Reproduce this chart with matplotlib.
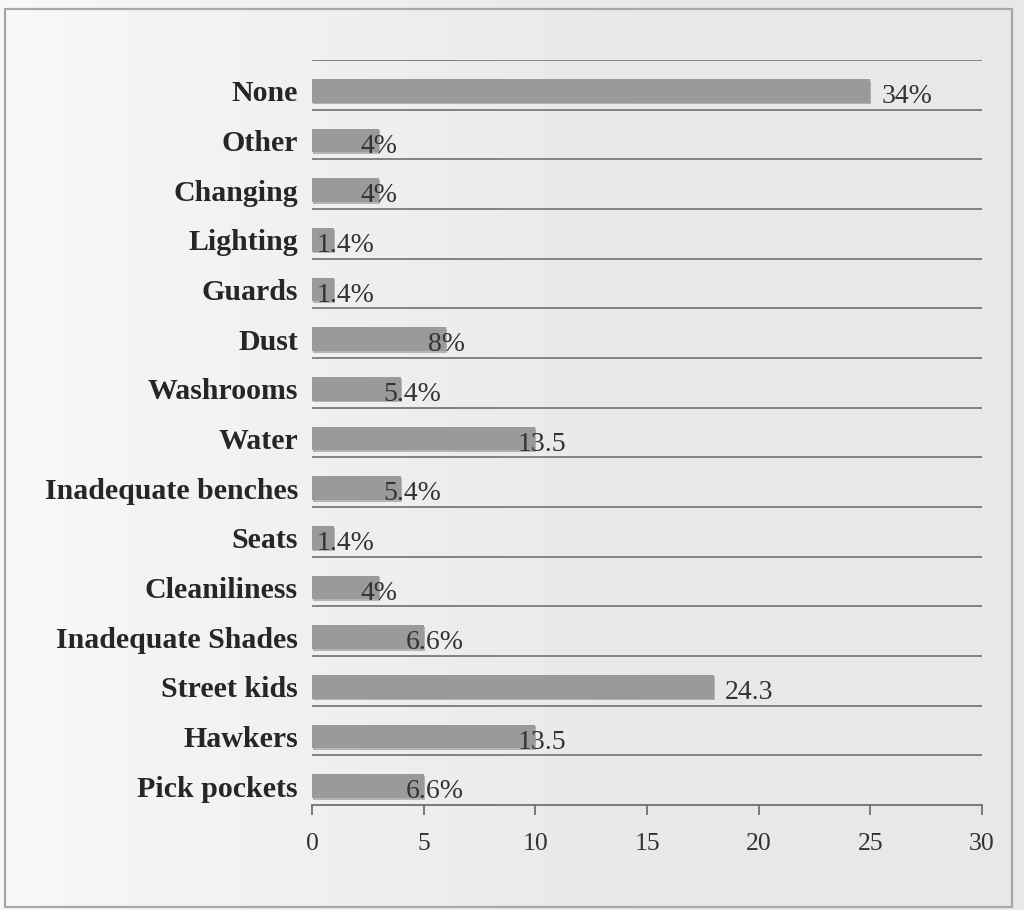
import numpy as np
import matplotlib
matplotlib.use("Agg")
import matplotlib.pyplot as plt
import matplotlib.patheffects as pe
from matplotlib.patches import Rectangle

# Problems reported at the site (counts of respondents) and their share labels
categories = ["None", "Other", "Changing", "Lighting", "Guards", "Dust",
              "Washrooms", "Water", "Inadequate benches", "Seats",
              "Cleaniliness", "Inadequate Shades", "Street kids", "Hawkers",
              "Pick pockets"]
counts = [25, 3, 3, 1, 1, 6, 4, 10, 4, 1, 3, 5, 18, 10, 5]
share_labels = ["34%", "4%", "4%", "1.4%", "1.4%", "8%", "5.4%", "13.5",
                "5.4%", "1.4%", "4%", "6.6%", "24.3", "13.5", "6.6%"]
x_ticks = [0, 5, 10, 15, 20, 25, 30]

W, H, DPI = 1024, 910, 100
fig = plt.figure(figsize=(W / DPI, H / DPI), dpi=DPI)

# paper-like background: lighter on the left, greyer on the right
bg = fig.add_axes([0, 0, 1, 1], zorder=-10)
gx = np.linspace(0, 1, 256)
grad = 0.975 - 0.065 * np.clip(gx * 1.6, 0, 1) ** 0.8
bg.imshow(np.tile(grad, (16, 1)), cmap="gray", vmin=0, vmax=1,
          aspect="auto", extent=[0, 1, 0, 1], interpolation="bilinear")
bg.add_patch(Rectangle((5 / W, 1 - 907 / H), (1012 - 5) / W, (907 - 9) / H,
                       fill=False, edgecolor="#a8a8a8", lw=1.6))
bg.set_xlim(0, 1)
bg.set_ylim(0, 1)
bg.axis("off")

ax = fig.add_axes([312 / W, 1 - 805 / H, (982 - 312) / W, (805 - 60) / H])
ax.set_facecolor("none")

n = len(categories)
pos = np.arange(n) + 0.12
bars = ax.barh(pos, counts, height=0.48, color="#9a9a9a", edgecolor="none",
               zorder=3)
for b in bars:
    b.set_path_effects([pe.SimplePatchShadow(offset=(0.8, -1.2),
                                             shadow_rgbFace="#7a7a7a",
                                             alpha=0.5), pe.Normal()])

# category separators
for k in range(n):
    ax.axhline(k - 0.5, color="#666666", lw=1.1, zorder=1)

ax.set_ylim(n - 0.5, -0.5)
ax.set_xlim(0, 30)
ax.set_xticks(x_ticks)
ax.set_xticklabels([str(t) for t in x_ticks], family="Liberation Serif",
                   fontsize=18.5, color="#333333")
ax.set_yticks(pos)
ax.set_yticklabels(categories, family="Liberation Serif", fontweight="bold",
                   fontsize=21.5, color="#262626")
ax.tick_params(axis="y", length=0, pad=10)
ax.tick_params(axis="x", length=7, width=1.2, color="#666666", pad=13)

for side in ("left", "right", "top"):
    ax.spines[side].set_visible(False)
ax.spines["bottom"].set_color("#666666")
ax.spines["bottom"].set_linewidth(1.2)

for y, v, lab in zip(pos, counts, share_labels):
    dx = 8 if v >= 15 else -13
    ax.annotate(lab, (v, y), xytext=(dx, -4), textcoords="offset points",
                ha="left", va="center", family="Liberation Serif",
                fontsize=20, color="#333333", zorder=4)

fig.savefig("out.png", dpi=DPI)
